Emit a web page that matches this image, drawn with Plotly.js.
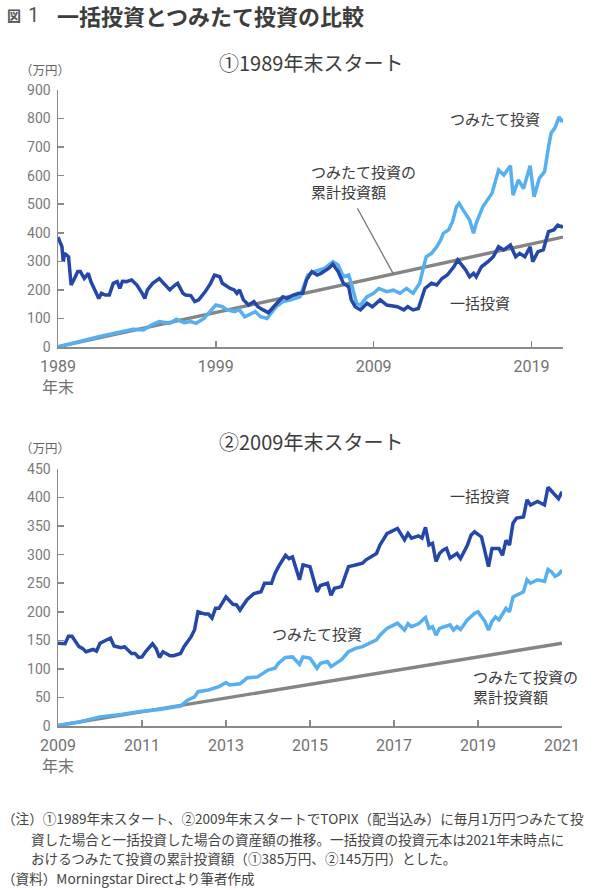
<!DOCTYPE html>
<html>
<head>
<meta charset="utf-8">
<script src="https://cdn.plot.ly/plotly-3.0.1.min.js"></script>
<style>
  html, body { margin: 0; padding: 0; background: #fff; }
  #chart { width: 600px; height: 890px; }
</style>
</head>
<body>
<div id="chart"></div>
<script>
// ① 1989年末スタート: months elapsed since end of 1989 (万円)
const lumpMonths89 = [0,3,4,5,8,9,10,12,15,17,20,23,25,28,31,33,36,39,42,45,47,49,52,56,60,64,66,68,72,77,79,82,85,89,91,95,97,101,104,107,112,116,119,123,125,131,134,136,138,141,145,149,152,156,160,164,168,171,174,179,183,186,189,193,197,200,206,209,213,217,221,223,226,230,235,239,242,245,250,258,263,266,270,274,279,284,288,292,296,301,304,307,310,313,316,318,322,327,331,335,339,344,348,351,355,359,361,365,369,373,377,380,383,384];
const lumpValues89 = [385,351,299,328,316,264,217,235,264,264,240,258,229,200,170,188,182,182,223,229,205,230,229,235,217,188,170,200,223,240,229,217,200,217,223,188,182,180,159,165,194,223,252,246,223,205,200,188,200,165,147,159,141,130,120,141,159,176,170,182,188,188,235,264,252,258,276,290,264,223,211,165,141,130,153,141,153,165,147,141,130,141,130,135,205,223,217,240,252,281,305,287,270,246,258,246,281,299,316,351,340,357,316,328,316,351,299,334,340,404,410,427,421,425];

const accumMonths89 = [0,6,12,18,25,31,45,57,65,71,77,85,90,96,101,105,111,116,120,125,128,134,138,142,145,150,154,159,162,166,171,177,184,190,195,203,209,213,217,221,223,227,230,235,240,244,250,255,260,265,270,275,278,280,284,288,291,293,297,300,303,305,308,311,313,316,318,323,330,335,339,344,346,350,354,359,362,366,370,373,375,378,381,383,384];
const accumValues89 = [1,8,14,24,30,36,50,62,60,77,89,83,97,85,89,83,100,124,147,141,132,124,130,106,112,124,106,100,118,141,159,165,176,252,264,276,299,287,246,252,223,153,147,176,188,205,194,199,188,205,188,223,281,316,328,351,375,398,410,439,491,503,480,456,445,398,433,491,538,620,602,635,532,585,555,635,526,591,614,701,750,768,806,789,800];

const principalMonths89 = [0, 384];
const principalValues89 = [1, 385];

// ② 2009年末スタート: months elapsed since end of 2009 (万円)
const lumpMonths09 = [0,2,3,4,6,7,8,10,11,12,14,15,16,18,19,21,22,23,24,25,27,28,29,30,32,33,35,36,38,39,40,42,43,44,45,46,48,50,51,52,54,55,56,58,59,61,62,63,65,66,67,69,70,72,74,75,77,78,79,81,82,83,85,87,88,90,91,92,94,95,97,99,100,101,103,104,105,106,107,108,109,110,111,112,114,115,117,118,119,121,122,123,124,126,127,128,129,130,131,133,134,135,137,139,140,141,142,143,144];
const lumpValues09 = [145,144,157,157,139,136,130,134,131,145,151,154,140,137,139,127,127,120,121,130,144,136,120,130,123,123,127,139,156,168,200,196,196,189,206,206,226,213,212,203,221,226,232,235,250,250,267,279,299,293,296,256,282,279,235,246,250,229,241,244,261,279,282,285,291,299,302,317,337,340,346,326,337,329,333,329,348,317,320,288,302,308,311,294,302,293,317,334,340,331,302,279,311,311,299,325,317,355,364,366,396,387,393,387,418,412,404,398,410];

const accumMonths09 = [0,6,12,18,23,29,35,37,39,40,43,46,48,49,52,54,57,60,62,63,65,67,69,70,72,74,75,77,78,80,81,83,85,87,89,91,92,94,97,99,100,101,103,105,106,107,108,109,112,113,114,115,117,119,120,122,123,124,125,126,128,129,130,132,133,134,135,137,139,140,141,142,143,144];
const accumValues09 = [1,7,16,20,25,29,35,45,51,60,63,69,76,72,74,84,86,98,101,110,120,121,108,121,119,101,110,113,104,113,116,130,136,139,145,151,159,171,180,168,179,174,179,190,171,174,159,171,177,168,174,169,186,197,200,183,168,183,191,186,206,200,226,232,235,256,250,256,253,274,270,262,265,273];

const principalMonths09 = [0, 144];
const principalValues09 = [1, 145];

// axis ticks
const ticks89 = [0, 120, 240, 360];
const tickText89 = ['1989<br>年末', '1999', '2009', '2019'];
const ticks09 = [0, 24, 48, 72, 96, 120, 144];
const tickText09 = ['2009<br>年末', '2011', '2013', '2015', '2017', '2019', '2021'];

const DARK = '#2447a9';
const LIGHT = '#55aff0';
const GREY = '#858585';
const TEXT = '#3d3d3d';
const AXIS = '#8a8a8a';
const FONT = "Roboto, 'Noto Sans CJK JP', sans-serif";
const JFONT = "'Noto Sans CJK JP', sans-serif";

const W = 600, H = 890;
const px = v => v / W;
const py = v => 1 - v / H;

function line(x, y, color, xa, ya, width) {
  return { x, y, type: 'scatter', mode: 'lines', xaxis: xa, yaxis: ya,
    line: { color, width: width || 3.5, shape: 'linear' }, hoverinfo: 'skip', showlegend: false };
}

const traces = [
  line(principalMonths89, principalValues89, GREY, 'x', 'y', 3.4),
  line(accumMonths89, accumValues89, LIGHT, 'x', 'y'),
  line(lumpMonths89, lumpValues89, DARK, 'x', 'y'),
  line(principalMonths09, principalValues09, GREY, 'x2', 'y2', 3.4),
  line(accumMonths09, accumValues09, LIGHT, 'x2', 'y2'),
  line(lumpMonths09, lumpValues09, DARK, 'x2', 'y2')
];

function xAxis(range, domain, tv, tt, anchor) {
  return { range, domain, anchor, tickmode: 'array', tickvals: tv, ticktext: tt,
    ticks: 'inside', ticklen: 6, tickwidth: 1.5, tickcolor: AXIS,
    showline: true, linecolor: AXIS, linewidth: 1.5, showgrid: false, zeroline: false,
    ticklabelstandoff: 4,
    tickfont: { family: FONT, size: 16, color: '#727272' }, fixedrange: true };
}
function yAxis(range, domain, dtick, anchor) {
  return { range, domain, anchor, dtick, tick0: 0,
    ticks: 'inside', ticklen: 6, tickwidth: 1.5, tickcolor: AXIS,
    showline: true, linecolor: AXIS, linewidth: 1.5, showgrid: false, zeroline: false,
    ticklabelstandoff: 3,
    tickfont: { family: FONT, size: 14, color: '#7a7a7a' }, fixedrange: true };
}

function txt(text, x, y, size, opts) {
  return Object.assign({ text, x: px(x), y: py(y), xref: 'paper', yref: 'paper',
    showarrow: false, xanchor: 'left', yanchor: 'middle',
    font: { family: JFONT, size, color: TEXT } }, opts || {});
}

const NOTE = { family: JFONT, size: 13.6, color: '#444' };

const annotations = [
  txt('<b>図</b>', 5, 15, 14, { font: { family: JFONT, size: 14, color: '#555' } }),
  txt('1', 26, 15, 20, { font: { family: FONT, size: 20, color: '#555' } }),
  txt('<b>一括投資とつみたて投資の比較</b>', 55, 15, 22),
  txt('①1989年末スタート', 311, 62, 20, { xanchor: 'center' }),
  txt('（万円）', 45, 70, 12.5, { xanchor: 'center', font: { family: JFONT, size: 12.5, color: '#666' } }),
  txt('つみたて投資', 448, 119, 15),
  txt('つみたて投資の<br>累計投資額', 309, 181, 15, { align: 'left' }),
  txt('一括投資', 448, 302, 15),
  { x: 255, y: 256, ax: 227, ay: 491, xref: 'x', yref: 'y', axref: 'x', ayref: 'y',
    text: '', showarrow: true, arrowhead: 0, arrowwidth: 1.3, arrowcolor: '#777', standoff: 0 },
  txt('②2009年末スタート', 311, 441, 20, { xanchor: 'center' }),
  txt('（万円）', 45, 447, 12.5, { xanchor: 'center', font: { family: JFONT, size: 12.5, color: '#666' } }),
  txt('一括投資', 448, 495, 15),
  txt('つみたて投資', 270, 633, 15),
  txt('つみたて投資の<br>累計投資額', 471, 686, 15, { align: 'left' }),
  txt('（注）①1989年末スタート、②2009年末スタートでTOPIX（配当込み）に毎月1万円つみたて投', 0, 818, 13.6, { font: NOTE }),
  txt('資した場合と一括投資した場合の資産額の推移。一括投資の投資元本は2021年末時点に', 29, 839, 13.6, { font: NOTE }),
  txt('おけるつみたて投資の累計投資額（①385万円、②145万円）とした。', 29, 858, 13.6, { font: NOTE }),
  txt('（資料）Morningstar Directより筆者作成', 0, 878, 13.6, { font: NOTE })
];

const layout = {
  width: W, height: H,
  margin: { l: 0, r: 0, t: 0, b: 0, pad: 0 },
  paper_bgcolor: '#fff', plot_bgcolor: '#fff',
  showlegend: false,
  xaxis: xAxis([0, 384], [px(58), px(563)], ticks89, tickText89, 'y'),
  yaxis: yAxis([0, 900], [py(347), py(90)], 100, 'x'),
  xaxis2: xAxis([0, 144], [px(58), px(562)], ticks09, tickText09, 'y2'),
  yaxis2: yAxis([0, 450], [py(726), py(469)], 50, 'x2'),
  annotations
};

Plotly.newPlot('chart', traces, layout, { displayModeBar: false, staticPlot: true });
</script>
</body>
</html>
